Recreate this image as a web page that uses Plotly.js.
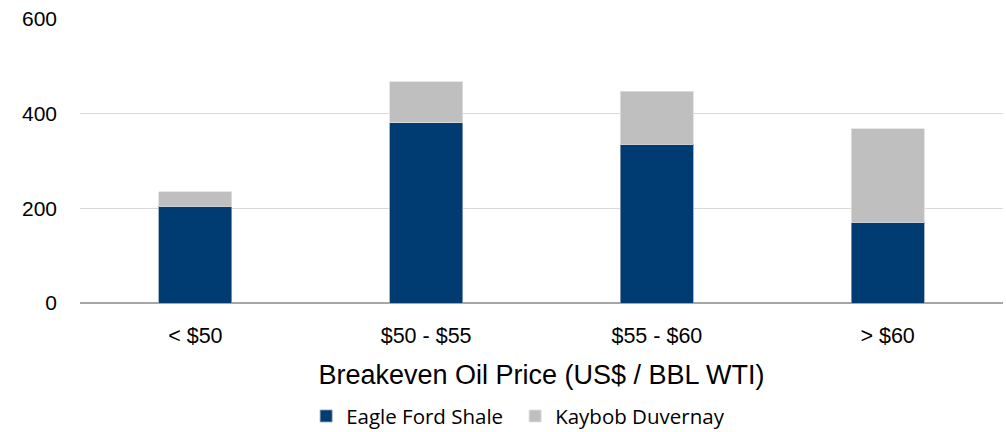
<!DOCTYPE html>
<html><head><meta charset="utf-8">
<script src="https://cdn.plot.ly/plotly-3.0.1.min.js"></script>
<style>html,body{margin:0;padding:0;background:#fff}#c{width:1006px;height:432px}</style>
</head><body><div id="c"></div>
<script>
const categories = ["< $50", "$50 - $55", "$55 - $60", "> $60"];
const eagleFord = [204, 381, 335, 171];
const kaybob = [31, 86, 112, 197];
const yTicks = [0, 200, 400, 600];

const traces = [
  {type:'bar', name:'Eagle Ford Shale', x:categories, y:eagleFord,
   marker:{color:'#003B71', line:{color:'#8FA3B8', width:0.8}}},
  {type:'bar', name:'Kaybob Duvernay', x:categories, y:kaybob,
   marker:{color:'#BFBFBF', line:{color:'#E0E0E0', width:0.8}}}
];
const layout = {
  width:1006, height:432, barmode:'stack', bargap:0.684,
  margin:{l:80, r:3, t:19, b:129, autoexpand:false},
  paper_bgcolor:'#fff', plot_bgcolor:'#fff',
  font:{family:'Liberation Sans, Arial, sans-serif', color:'#000'},
  xaxis:{automargin:false, tickfont:{size:21.5}, title:{text:'Breakeven Oil Price (US$ / BBL WTI)', font:{size:27}, standoff:18},
         showgrid:false, showline:false, ticks:'', ticklabelstandoff:17},
  yaxis:{automargin:false, range:[0,600], tickvals:yTicks, tickfont:{size:21}, gridcolor:'#D9D9D9', gridwidth:1,
         zeroline:true, zerolinecolor:'#A6A6A6', zerolinewidth:2, ticks:'', ticklabelstandoff:22, fixedrange:true},
  legend:{orientation:'h', x:0.245, xanchor:'left', y:-0.328, yanchor:'top', entrywidth:164, entrywidthmode:'pixels',
          font:{size:20.5, family:'Open Sans, Liberation Sans, sans-serif'}, traceorder:'normal'},
  showlegend:true
};
Plotly.newPlot('c', traces, layout, {displayModeBar:false, staticPlot:true});
</script></body></html>
